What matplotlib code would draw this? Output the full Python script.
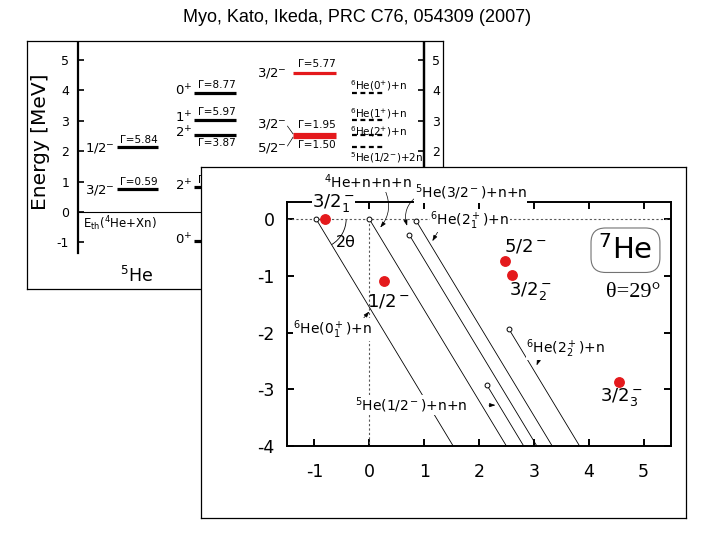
import matplotlib
matplotlib.use('Agg')
import matplotlib.pyplot as plt
import numpy as np
from matplotlib.patches import Arc

plt.rcParams['font.family'] = ['DejaVu Sans']
plt.rcParams['mathtext.fontset'] = 'dejavusans'
plt.rcParams['axes.unicode_minus'] = False

# ---------------- data: left panel (MeV from the 4He+Xn threshold) ----------------
he5_jp = ['3/2$^{-}$', '1/2$^{-}$']
he5_E = [0.74, 2.14]
he5_G = ['0.59', '5.84']

he6_jp = ['0$^{+}$', '2$^{+}$', '2$^{+}$', '1$^{+}$', '0$^{+}$']
he6_E = [-0.97, 0.82, 2.54, 3.04, 3.93]
he6_G = ['', '0.11', '3.87', '5.97', '8.77']

he7_jp = ['5/2$^{-}$', '3/2$^{-}$', '3/2$^{-}$']
he7_E = [2.46, 2.57, 4.57]
he7_G = ['1.50', '1.95', '5.77']

thr_names = ['$^{5}$He(1/2$^{-}$)+2n', '$^{6}$He(2$^{+}$)+n',
             '$^{6}$He(1$^{+}$)+n', '$^{6}$He(0$^{+}$)+n']
thr_E = [2.14, 2.54, 3.04, 3.93]

left_ticks = [-1, 0, 1, 2, 3, 4, 5]
right_ticks = [2, 3, 4, 5]   # the lower ones lie under the inset

# ---------------- data: right panel (complex energy plane) ----------------
theta_deg = 29
res_names = [r'$3/2_1^-$', r'$1/2^-$', r'$5/2^-$', r'$3/2_2^-$', r'$3/2_3^-$']
res_re = [-0.80, 0.26, 2.47, 2.60, 4.55]
res_im = [0.0, -1.09, -0.74, -0.98, -2.88]

cut_names = [r'$^6$He(0$_1^+$)+n', r'$^4$He+n+n+n', r'$^5$He(3/2$^-$)+n+n',
             r'$^6$He(2$_1^+$)+n', r'$^6$He(2$_2^+$)+n', r'$^5$He(1/2$^-$)+n+n']
cut_re = [-0.97, 0.0, 0.73, 0.86, 2.54, 2.14]
cut_im = [0.0, 0.0, -0.28, -0.04, -1.93, -2.92]

RED = '#e4191c'
W, H = 720, 540


def fr(x0, y0, x1, y1):
    return [x0 / W, 1 - y1 / H, (x1 - x0) / W, (y1 - y0) / H]


fig = plt.figure(figsize=(7.2, 5.4), dpi=100)
fig.text(357.5 / W, 1 - 17 / H, 'Myo, Kato, Ikeda, PRC C76, 054309 (2007)',
         ha='center', va='center', fontsize=13, family='Liberation Sans')

# ================= left panel =================
axf = fig.add_axes(fr(27, 41, 443, 289))
axf.set_xticks([]); axf.set_yticks([])
for s in axf.spines.values():
    s.set_linewidth(0.9)

ax = fig.add_axes(fr(77.5, 43, 424, 253))
ax.set_xlim(0, 1)
ax.set_ylim(-1.35, 5.56)
ax.patch.set_alpha(0)
ax.spines['top'].set_visible(False)
ax.spines['bottom'].set_visible(False)
ax.spines['left'].set_linewidth(1.6)
ax.spines['right'].set_linewidth(1.6)
ax.set_xticks([])
ax.set_yticks(left_ticks)
ax.tick_params(axis='y', direction='in', length=4, width=1.2, labelsize=9,
               left=True, right=False, labelleft=True, labelright=False, pad=6)
axr = ax.twinx()
axr.set_ylim(ax.get_ylim())
axr.set_yticks(right_ticks)
for k in ('top', 'bottom', 'left'):
    axr.spines[k].set_visible(False)
axr.spines['right'].set_linewidth(1.6)
axr.tick_params(axis='y', direction='in', length=4, width=1.2, labelsize=9, pad=6)

ax.axhline(0, color='k', lw=0.8)
fig.text(41 / W, 1 - 142 / H, 'Energy [MeV]', rotation=90, ha='center', va='center',
         fontsize=14.5)
ax.text(0.016, -0.38, r'E$_{\rm th}$($^4$He+Xn)', fontsize=8.5, ha='left', va='center')

LW = 2.3
# 5He column
c5 = (0.114, 0.232)
ax.hlines(he5_E, c5[0], c5[1], colors='k', lw=LW)
for e, jp, g in zip(he5_E, he5_jp, he5_G):
    ax.text(c5[0] - 0.006, e - 0.02, jp, ha='right', va='center', fontsize=9.5)
    ax.text(c5[1], e + 0.08, 'Γ=' + g, ha='right', va='bottom', fontsize=7.5)
ax.text(0.17, -2.1, '$^5$He', ha='center', va='center', fontsize=12.5)

# 6He column
c6 = (0.336, 0.457)
ax.hlines(he6_E, c6[0], c6[1], colors='k', lw=LW)
for e, jp, g in zip(he6_E, he6_jp, he6_G):
    ax.text(c6[0] - 0.006, e + 0.05, jp, ha='right', va='center', fontsize=9.5)
    if g == '3.87':
        ax.text(c6[1], e - 0.1, 'Γ=' + g, ha='right', va='top', fontsize=7.5)
    elif g:
        ax.text(c6[1], e + 0.08, 'Γ=' + g, ha='right', va='bottom', fontsize=7.5)

# 7He column
c7 = (0.622, 0.746)
ax.hlines(he7_E, c7[0], c7[1], colors=RED, lw=LW)
lab_off = [-0.36, 0.32, 0.0]
for e, jp, g, off in zip(he7_E, he7_jp, he7_G, lab_off):
    ax.text(c7[0] - 0.018, e + off, jp, ha='right', va='center', fontsize=9.5)
    if off < 0:
        ax.text(c7[1], e - 0.1, 'Γ=' + g, ha='right', va='top', fontsize=7.5)
    else:
        ax.text(c7[1], e + 0.12, 'Γ=' + g, ha='right', va='bottom', fontsize=7.5)
    if off != 0:
        ax.plot([c7[0] - 0.016, c7[0]], [e + off * 0.8, e], color='k', lw=0.5)

# thresholds column
ct = (0.792, 0.887)
ax.hlines(thr_E, ct[0], ct[1], colors='k', lw=1.6, linestyles=(0, (2.2, 1.6)))
thr_off = [-0.36, 0.1, 0.2, 0.23]
for e, nm, off in zip(thr_E, thr_names, thr_off):
    ax.text(ct[0] - 0.005, e + off, nm, ha='left', va='center', fontsize=7.5)

# ================= right panel (inset) =================
axb = fig.add_axes(fr(201, 167, 686, 518), zorder=5)
axb.set_xticks([]); axb.set_yticks([])
axb.set_facecolor('white')
for s in axb.spines.values():
    s.set_linewidth(0.9)

axi = fig.add_axes(fr(287, 202, 671, 446), zorder=6)
axi.patch.set_alpha(0)
axi.set_xlim(-1.5, 5.5)
axi.set_ylim(-4, 0.3)
axi.set_xticks(range(-1, 6))
axi.set_yticks(range(-4, 1))
for s in axi.spines.values():
    s.set_linewidth(1.4)
axi.tick_params(direction='in', top=True, right=True, length=5, width=1.4, labelsize=12.5)
axi.tick_params(axis='x', pad=12)
axi.tick_params(axis='y', pad=9)
fig.text(478 / W, 1 - 500 / H, 'Re(Energy) [MeV]', ha='center', va='center', fontsize=14.5)
fig.text(222 / W, 1 - 292 / H, 'Im(Energy) [MeV]', rotation=90, ha='center', va='center',
         fontsize=14.5)

axi.plot([-1.5, 5.5], [0, 0], ls=(0, (2, 2)), color='0.35', lw=0.8)
axi.plot([0, 0], [0, -4], ls=(0, (2, 2)), color='0.35', lw=0.8)

t2 = np.tan(np.radians(2 * theta_deg))
for re, im in zip(cut_re, cut_im):
    axi.plot([re, re + (im + 4) / t2], [im, -4], color='k', lw=0.6)
axi.plot(cut_re, cut_im, 'o', mfc='white', mec='k', ms=3.5, mew=0.7, zorder=4)
axi.plot(res_re, res_im, 'o', color=RED, ms=6.8, zorder=5)

axi.add_patch(Arc((cut_re[0], 0), 2 * 30 / 54.7, 2 * 30 / 57,
                  theta1=-2 * theta_deg, theta2=0, lw=0.6, color='k'))
axi.text(-0.42, -0.42, '2θ', ha='center', va='center', fontsize=11.5)

res_pos = [(-0.66, 0.28), (0.35, -1.46), (2.85, -0.49), (2.94, -1.26), (4.59, -3.14)]
for nm, (x, y) in zip(res_names, res_pos):
    axi.text(x, y, nm, ha='center', va='center', fontsize=13,
             bbox=dict(fc='white', ec='none', pad=0) if y > 0.1 else None, zorder=7)

cut_pos = [(-0.67, -1.95), (-0.02, 0.65), (1.85, 0.47), (1.83, -0.03), (3.58, -2.28), (0.77, -3.28)]
arrows = [((-0.16, -1.81), (0.0, -1.63)), ((0.29, 0.50), (0.20, -0.15)),
          ((0.87, 0.40), (0.69, -0.12)), ((1.30, -0.14), (1.15, -0.39)),
          ((3.13, -2.39), (3.05, -2.58)), ((2.18, -3.28), (2.30, -3.28))]
rads = [0.0, -0.3, 0.35, 0.0, 0.0, 0.0]
for nm, (x, y), (a, b), r in zip(cut_names, cut_pos, arrows, rads):
    axi.text(x, y, nm, ha='center', va='center', fontsize=10, zorder=6,
             bbox=dict(fc='white', ec='none', pad=0.3))
    axi.annotate('', xy=b, xytext=a,
                 arrowprops=dict(arrowstyle='-|>,head_length=0.35,head_width=0.12',
                                 lw=0.5, color='k', shrinkA=0, shrinkB=0,
                                 connectionstyle=f'arc3,rad={r}'))

axi.text(4.67, -0.55, '$^7$He', ha='center', va='center', fontsize=21,
         bbox=dict(boxstyle='round,pad=0.25,rounding_size=0.5', fc='white', ec='0.45', lw=0.8))
axi.text(4.81, -1.30, 'θ=29°', ha='center', va='center', fontsize=16,
         family='Liberation Serif')

fig.savefig('out.png', dpi=100)
